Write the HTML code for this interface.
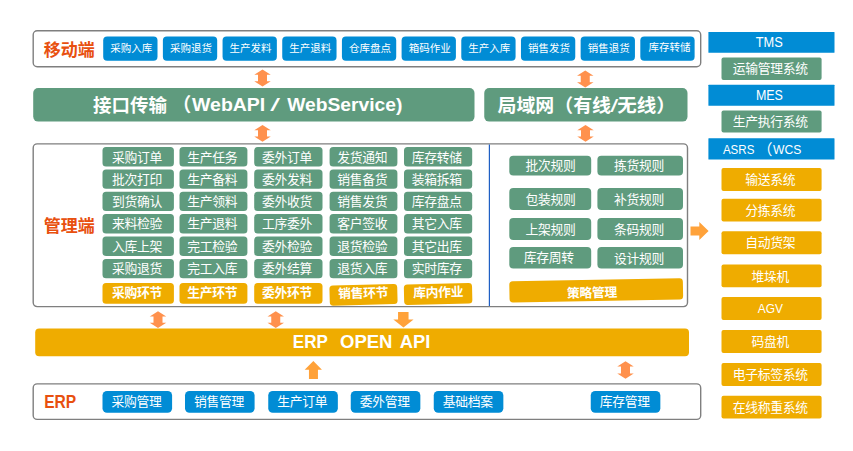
<!DOCTYPE html>
<html lang="zh-CN"><head><meta charset="utf-8"><title>WMS</title>
<style>
html,body{margin:0;padding:0;background:#fff;}
body{width:853px;height:451px;overflow:hidden;}
svg{display:block;font-family:"Liberation Sans","Noto Sans CJK SC",sans-serif;}
</style></head><body>
<svg width="853" height="451" viewBox="0 0 853 451">
<rect x="33.20" y="30.70" width="667.50" height="36.00" rx="4" fill="#fff" stroke="#7f7f7f" stroke-width="1.4"/>
<text x="69.30" y="50.00" font-size="17" fill="#E8500F" font-weight="700" text-anchor="middle" dominant-baseline="central" >移动端</text>
<rect x="103.20" y="36.50" width="54.30" height="24.30" rx="4" fill="#018CD5" />
<text x="131.25" y="48.35" font-size="10.5" fill="#fff" text-anchor="middle" dominant-baseline="central" >采购入库</text>
<rect x="162.88" y="36.50" width="54.30" height="24.30" rx="4" fill="#018CD5" />
<text x="190.93" y="48.35" font-size="10.5" fill="#fff" text-anchor="middle" dominant-baseline="central" >采购退货</text>
<rect x="222.56" y="36.50" width="54.30" height="24.30" rx="4" fill="#018CD5" />
<text x="250.61" y="48.35" font-size="10.5" fill="#fff" text-anchor="middle" dominant-baseline="central" >生产发料</text>
<rect x="282.24" y="36.50" width="54.30" height="24.30" rx="4" fill="#018CD5" />
<text x="310.29" y="48.35" font-size="10.5" fill="#fff" text-anchor="middle" dominant-baseline="central" >生产退料</text>
<rect x="341.92" y="36.50" width="54.30" height="24.30" rx="4" fill="#018CD5" />
<text x="369.97" y="48.35" font-size="10.5" fill="#fff" text-anchor="middle" dominant-baseline="central" >仓库盘点</text>
<rect x="401.60" y="36.50" width="54.30" height="24.30" rx="4" fill="#018CD5" />
<text x="429.65" y="48.35" font-size="10.5" fill="#fff" text-anchor="middle" dominant-baseline="central" >箱码作业</text>
<rect x="461.28" y="36.50" width="54.30" height="24.30" rx="4" fill="#018CD5" />
<text x="489.33" y="48.35" font-size="10.5" fill="#fff" text-anchor="middle" dominant-baseline="central" >生产入库</text>
<rect x="520.96" y="36.50" width="54.30" height="24.30" rx="4" fill="#018CD5" />
<text x="549.01" y="48.35" font-size="10.5" fill="#fff" text-anchor="middle" dominant-baseline="central" >销售发货</text>
<rect x="580.64" y="36.50" width="54.30" height="24.30" rx="4" fill="#018CD5" />
<text x="608.69" y="48.35" font-size="10.5" fill="#fff" text-anchor="middle" dominant-baseline="central" >销售退货</text>
<rect x="640.32" y="36.50" width="54.30" height="24.30" rx="4" fill="#018CD5" />
<text x="669.47" y="47.15" font-size="10.5" fill="#fff" text-anchor="middle" dominant-baseline="central" >库存转储</text>
<rect x="33.20" y="88.00" width="441.30" height="33.60" rx="5" fill="#5F9B7E" />
<rect x="484.25" y="88.00" width="203.25" height="33.60" rx="5" fill="#5F9B7E" />
<text x="93.00" y="105.00" font-size="18.5" fill="#fff" font-weight="700" text-anchor="start" dominant-baseline="central" >接口传输</text>
<text x="172.30" y="105.00" font-size="19" fill="#fff" font-weight="700" text-anchor="start" dominant-baseline="central" >（</text>
<text x="192.00" y="105.00" font-size="18" fill="#fff" font-weight="700" text-anchor="start" dominant-baseline="central"  textLength="73.3" lengthAdjust="spacingAndGlyphs">WebAPI</text>
<text x="270.20" y="105.00" font-size="18" fill="#fff" text-anchor="start" dominant-baseline="central"  textLength="9.8" lengthAdjust="spacingAndGlyphs">/</text>
<text x="287.20" y="105.00" font-size="18" fill="#fff" font-weight="700" text-anchor="start" dominant-baseline="central"  textLength="115.2" lengthAdjust="spacingAndGlyphs">WebService)</text>
<text x="497.50" y="105.00" font-size="18.5" fill="#fff" font-weight="700" text-anchor="start" dominant-baseline="central"  textLength="113.5" lengthAdjust="spacingAndGlyphs">局域网（有线</text>
<text x="610.20" y="105.00" font-size="18.5" fill="#fff" text-anchor="start" dominant-baseline="central"  textLength="8" lengthAdjust="spacingAndGlyphs">/</text>
<text x="617.30" y="105.00" font-size="18.5" fill="#fff" font-weight="700" text-anchor="start" dominant-baseline="central"  textLength="58.5" lengthAdjust="spacingAndGlyphs">无线）</text>
<polygon fill="#FF914D" points="262.50,69.50 270.75,74.80 267.00,74.80 267.00,81.20 270.75,81.20 262.50,86.50 254.25,81.20 258.00,81.20 258.00,74.80 254.25,74.80"/>
<polygon fill="#FF914D" points="585.25,70.50 593.50,75.80 589.75,75.80 589.75,82.20 593.50,82.20 585.25,87.50 577.00,82.20 580.75,82.20 580.75,75.80 577.00,75.80"/>
<polygon fill="#FF914D" points="262.50,125.00 270.75,130.30 267.00,130.30 267.00,136.45 270.75,136.45 262.50,141.75 254.25,136.45 258.00,136.45 258.00,130.30 254.25,130.30"/>
<polygon fill="#FF914D" points="585.50,125.00 593.75,130.30 590.00,130.30 590.00,136.45 593.75,136.45 585.50,141.75 577.25,136.45 581.00,136.45 581.00,130.30 577.25,130.30"/>
<polygon fill="#FF914D" points="158.00,311.25 166.25,316.55 162.50,316.55 162.50,322.70 166.25,322.70 158.00,328.00 149.75,322.70 153.50,322.70 153.50,316.55 149.75,316.55"/>
<polygon fill="#FF914D" points="275.75,311.25 284.00,316.55 280.25,316.55 280.25,322.70 284.00,322.70 275.75,328.00 267.50,322.70 271.25,322.70 271.25,316.55 267.50,316.55"/>
<polygon fill="#FF914D" points="625.50,361.25 633.75,366.55 630.00,366.55 630.00,373.45 633.75,373.45 625.50,378.75 617.25,373.45 621.00,373.45 621.00,366.55 617.25,366.55"/>
<rect x="33.20" y="143.90" width="654.30" height="162.70" rx="4" fill="#fff" stroke="#7f7f7f" stroke-width="1.4"/>
<line x1="489.4" y1="144.5" x2="489.4" y2="306" stroke="#1F5FC4" stroke-width="1.2"/>
<text x="69.30" y="226.50" font-size="17" fill="#E8500F" font-weight="700" text-anchor="middle" dominant-baseline="central" >管理端</text>
<rect x="102.50" y="147.10" width="71.40" height="19.40" rx="3.5" fill="#5F9B7E" />
<text x="136.90" y="157.00" font-size="12.8" fill="#fff" text-anchor="middle" dominant-baseline="central" letter-spacing="-0.3">采购订单</text>
<rect x="102.50" y="169.40" width="71.40" height="19.40" rx="3.5" fill="#5F9B7E" />
<text x="136.90" y="179.30" font-size="12.8" fill="#fff" text-anchor="middle" dominant-baseline="central" letter-spacing="-0.3">批次打印</text>
<rect x="102.50" y="191.70" width="71.40" height="19.40" rx="3.5" fill="#5F9B7E" />
<text x="136.90" y="201.60" font-size="12.8" fill="#fff" text-anchor="middle" dominant-baseline="central" letter-spacing="-0.3">到货确认</text>
<rect x="102.50" y="214.00" width="71.40" height="19.40" rx="3.5" fill="#5F9B7E" />
<text x="136.90" y="223.90" font-size="12.8" fill="#fff" text-anchor="middle" dominant-baseline="central" letter-spacing="-0.3">来料检验</text>
<rect x="102.50" y="236.60" width="71.40" height="19.40" rx="3.5" fill="#5F9B7E" />
<text x="136.90" y="246.50" font-size="12.8" fill="#fff" text-anchor="middle" dominant-baseline="central" letter-spacing="-0.3">入库上架</text>
<rect x="102.50" y="258.90" width="71.40" height="19.40" rx="3.5" fill="#5F9B7E" />
<text x="136.90" y="268.80" font-size="12.8" fill="#fff" text-anchor="middle" dominant-baseline="central" letter-spacing="-0.3">采购退货</text>
<rect x="179.50" y="147.10" width="67.90" height="19.40" rx="3.5" fill="#5F9B7E" />
<text x="212.15" y="157.00" font-size="12.8" fill="#fff" text-anchor="middle" dominant-baseline="central" letter-spacing="-0.3">生产任务</text>
<rect x="179.50" y="169.40" width="67.90" height="19.40" rx="3.5" fill="#5F9B7E" />
<text x="212.15" y="179.30" font-size="12.8" fill="#fff" text-anchor="middle" dominant-baseline="central" letter-spacing="-0.3">生产备料</text>
<rect x="179.50" y="191.70" width="67.90" height="19.40" rx="3.5" fill="#5F9B7E" />
<text x="212.15" y="201.60" font-size="12.8" fill="#fff" text-anchor="middle" dominant-baseline="central" letter-spacing="-0.3">生产领料</text>
<rect x="179.50" y="214.00" width="67.90" height="19.40" rx="3.5" fill="#5F9B7E" />
<text x="212.15" y="223.90" font-size="12.8" fill="#fff" text-anchor="middle" dominant-baseline="central" letter-spacing="-0.3">生产退料</text>
<rect x="179.50" y="236.60" width="67.90" height="19.40" rx="3.5" fill="#5F9B7E" />
<text x="212.15" y="246.50" font-size="12.8" fill="#fff" text-anchor="middle" dominant-baseline="central" letter-spacing="-0.3">完工检验</text>
<rect x="179.50" y="258.90" width="67.90" height="19.40" rx="3.5" fill="#5F9B7E" />
<text x="212.15" y="268.80" font-size="12.8" fill="#fff" text-anchor="middle" dominant-baseline="central" letter-spacing="-0.3">完工入库</text>
<rect x="254.20" y="147.10" width="68.30" height="19.40" rx="3.5" fill="#5F9B7E" />
<text x="287.05" y="157.00" font-size="12.8" fill="#fff" text-anchor="middle" dominant-baseline="central" letter-spacing="-0.3">委外订单</text>
<rect x="254.20" y="169.40" width="68.30" height="19.40" rx="3.5" fill="#5F9B7E" />
<text x="287.05" y="179.30" font-size="12.8" fill="#fff" text-anchor="middle" dominant-baseline="central" letter-spacing="-0.3">委外发料</text>
<rect x="254.20" y="191.70" width="68.30" height="19.40" rx="3.5" fill="#5F9B7E" />
<text x="287.05" y="201.60" font-size="12.8" fill="#fff" text-anchor="middle" dominant-baseline="central" letter-spacing="-0.3">委外收货</text>
<rect x="254.20" y="214.00" width="68.30" height="19.40" rx="3.5" fill="#5F9B7E" />
<text x="287.05" y="223.90" font-size="12.8" fill="#fff" text-anchor="middle" dominant-baseline="central" letter-spacing="-0.3">工序委外</text>
<rect x="254.20" y="236.60" width="68.30" height="19.40" rx="3.5" fill="#5F9B7E" />
<text x="287.05" y="246.50" font-size="12.8" fill="#fff" text-anchor="middle" dominant-baseline="central" letter-spacing="-0.3">委外检验</text>
<rect x="254.20" y="258.90" width="68.30" height="19.40" rx="3.5" fill="#5F9B7E" />
<text x="287.05" y="268.80" font-size="12.8" fill="#fff" text-anchor="middle" dominant-baseline="central" letter-spacing="-0.3">委外结算</text>
<rect x="329.60" y="147.10" width="67.80" height="19.40" rx="3.5" fill="#5F9B7E" />
<text x="362.20" y="157.00" font-size="12.8" fill="#fff" text-anchor="middle" dominant-baseline="central" letter-spacing="-0.3">发货通知</text>
<rect x="329.60" y="169.40" width="67.80" height="19.40" rx="3.5" fill="#5F9B7E" />
<text x="362.20" y="179.30" font-size="12.8" fill="#fff" text-anchor="middle" dominant-baseline="central" letter-spacing="-0.3">销售备货</text>
<rect x="329.60" y="191.70" width="67.80" height="19.40" rx="3.5" fill="#5F9B7E" />
<text x="362.20" y="201.60" font-size="12.8" fill="#fff" text-anchor="middle" dominant-baseline="central" letter-spacing="-0.3">销售发货</text>
<rect x="329.60" y="214.00" width="67.80" height="19.40" rx="3.5" fill="#5F9B7E" />
<text x="362.20" y="223.90" font-size="12.8" fill="#fff" text-anchor="middle" dominant-baseline="central" letter-spacing="-0.3">客户签收</text>
<rect x="329.60" y="236.60" width="67.80" height="19.40" rx="3.5" fill="#5F9B7E" />
<text x="362.20" y="246.50" font-size="12.8" fill="#fff" text-anchor="middle" dominant-baseline="central" letter-spacing="-0.3">退货检验</text>
<rect x="329.60" y="258.90" width="67.80" height="19.40" rx="3.5" fill="#5F9B7E" />
<text x="362.20" y="268.80" font-size="12.8" fill="#fff" text-anchor="middle" dominant-baseline="central" letter-spacing="-0.3">退货入库</text>
<rect x="404.00" y="147.10" width="68.20" height="19.40" rx="3.5" fill="#5F9B7E" />
<text x="436.80" y="157.00" font-size="12.8" fill="#fff" text-anchor="middle" dominant-baseline="central" letter-spacing="-0.3">库存转储</text>
<rect x="404.00" y="169.40" width="68.20" height="19.40" rx="3.5" fill="#5F9B7E" />
<text x="436.80" y="179.30" font-size="12.8" fill="#fff" text-anchor="middle" dominant-baseline="central" letter-spacing="-0.3">装箱拆箱</text>
<rect x="404.00" y="191.70" width="68.20" height="19.40" rx="3.5" fill="#5F9B7E" />
<text x="436.80" y="201.60" font-size="12.8" fill="#fff" text-anchor="middle" dominant-baseline="central" letter-spacing="-0.3">库存盘点</text>
<rect x="404.00" y="214.00" width="68.20" height="19.40" rx="3.5" fill="#5F9B7E" />
<text x="436.80" y="223.90" font-size="12.8" fill="#fff" text-anchor="middle" dominant-baseline="central" letter-spacing="-0.3">其它入库</text>
<rect x="404.00" y="236.60" width="68.20" height="19.40" rx="3.5" fill="#5F9B7E" />
<text x="436.80" y="246.50" font-size="12.8" fill="#fff" text-anchor="middle" dominant-baseline="central" letter-spacing="-0.3">其它出库</text>
<rect x="404.00" y="258.90" width="68.20" height="19.40" rx="3.5" fill="#5F9B7E" />
<text x="436.80" y="268.80" font-size="12.8" fill="#fff" text-anchor="middle" dominant-baseline="central" letter-spacing="-0.3">实时库存</text>
<rect x="102.50" y="283.00" width="71.40" height="20.70" rx="3.5" fill="#EFAC00" />
<text x="136.90" y="292.75" font-size="12.8" fill="#fff" font-weight="700" text-anchor="middle" dominant-baseline="central" letter-spacing="-0.3">采购环节</text>
<rect x="179.50" y="283.00" width="67.90" height="20.70" rx="3.5" fill="#EFAC00" />
<text x="212.15" y="292.75" font-size="12.8" fill="#fff" font-weight="700" text-anchor="middle" dominant-baseline="central" letter-spacing="-0.3">生产环节</text>
<rect x="254.20" y="283.00" width="68.30" height="20.70" rx="3.5" fill="#EFAC00" />
<text x="287.05" y="292.75" font-size="12.8" fill="#fff" font-weight="700" text-anchor="middle" dominant-baseline="central" letter-spacing="-0.3">委外环节</text>
<g transform="rotate(-1.5 363.6 294.8)">
<rect x="329.60" y="284.70" width="67.80" height="20.20" rx="3.5" fill="#EFAC00" />
<text x="363.10" y="293.20" font-size="12.8" fill="#fff" font-weight="700" text-anchor="middle" dominant-baseline="central" letter-spacing="-0.3">销售环节</text>
</g>
<g transform="rotate(-1.3 438.2 294)">
<rect x="404.00" y="283.80" width="68.20" height="20.40" rx="3.5" fill="#EFAC00" />
<text x="438.30" y="292.40" font-size="12.8" fill="#fff" font-weight="700" text-anchor="middle" dominant-baseline="central" letter-spacing="-0.3">库内作业</text>
</g>
<rect x="509.30" y="155.80" width="81.90" height="19.60" rx="4" fill="#5F9B7E" />
<text x="550.45" y="165.80" font-size="12.8" fill="#fff" text-anchor="middle" dominant-baseline="central" letter-spacing="-0.3">批次规则</text>
<rect x="597.40" y="155.80" width="85.60" height="19.60" rx="4" fill="#5F9B7E" />
<text x="638.90" y="165.80" font-size="12.8" fill="#fff" text-anchor="middle" dominant-baseline="central" letter-spacing="-0.3">拣货规则</text>
<rect x="509.30" y="187.90" width="81.90" height="22.00" rx="4" fill="#5F9B7E" />
<text x="550.45" y="199.10" font-size="12.8" fill="#fff" text-anchor="middle" dominant-baseline="central" letter-spacing="-0.3">包装规则</text>
<rect x="597.40" y="187.90" width="85.60" height="22.00" rx="4" fill="#5F9B7E" />
<text x="638.90" y="199.10" font-size="12.8" fill="#fff" text-anchor="middle" dominant-baseline="central" letter-spacing="-0.3">补货规则</text>
<rect x="509.30" y="218.10" width="81.90" height="21.80" rx="4" fill="#5F9B7E" />
<text x="550.45" y="229.20" font-size="12.8" fill="#fff" text-anchor="middle" dominant-baseline="central" letter-spacing="-0.3">上架规则</text>
<rect x="597.40" y="218.10" width="85.60" height="21.80" rx="4" fill="#5F9B7E" />
<text x="638.90" y="229.20" font-size="12.8" fill="#fff" text-anchor="middle" dominant-baseline="central" letter-spacing="-0.3">条码规则</text>
<rect x="509.30" y="247.00" width="81.90" height="21.60" rx="4" fill="#5F9B7E" />
<text x="548.65" y="257.00" font-size="12.8" fill="#fff" text-anchor="middle" dominant-baseline="central" letter-spacing="-0.3">库存周转</text>
<rect x="597.40" y="247.00" width="85.60" height="21.60" rx="4" fill="#5F9B7E" />
<text x="638.90" y="258.40" font-size="12.8" fill="#fff" text-anchor="middle" dominant-baseline="central" letter-spacing="-0.3">设计规则</text>
<g transform="rotate(-1 596 290)">
<rect x="509.40" y="279.70" width="173.60" height="21.30" rx="3.5" fill="#EFAC00" />
<text x="591.90" y="292.75" font-size="12.8" fill="#fff" font-weight="700" text-anchor="middle" dominant-baseline="central" letter-spacing="-0.3">策略管理</text>
</g>
<polygon fill="#FFA23A" points="690.50,226.60 699.30,226.60 699.30,222.10 708.60,231.00 699.30,239.90 699.30,235.40 690.50,235.40"/>
<rect x="35.20" y="328.50" width="653.80" height="27.80" rx="4" fill="#EFAC00" />
<text x="292.80" y="341.20" font-size="18.5" fill="#fff" font-weight="700" text-anchor="start" dominant-baseline="central"  textLength="35" lengthAdjust="spacingAndGlyphs">ERP</text>
<text x="340.00" y="341.20" font-size="18.5" fill="#fff" font-weight="700" text-anchor="start" dominant-baseline="central"  textLength="52.5" lengthAdjust="spacingAndGlyphs">OPEN</text>
<text x="399.80" y="341.20" font-size="18.5" fill="#fff" font-weight="700" text-anchor="start" dominant-baseline="central"  textLength="30.5" lengthAdjust="spacingAndGlyphs">API</text>
<polygon fill="#FFA23A" points="398.05,311.90 408.55,311.90 408.55,319.40 413.55,319.40 403.45,327.60 393.35,319.40 398.05,319.40"/>
<polygon fill="#FFA23A" points="313.35,360.90 321.95,369.80 317.95,369.80 317.95,378.90 308.95,378.90 308.95,369.80 304.65,369.80"/>
<rect x="33.20" y="383.90" width="667.50" height="35.50" rx="4" fill="#fff" stroke="#7f7f7f" stroke-width="1.4"/>
<text x="44.20" y="402.30" font-size="18" fill="#E8500F" font-weight="700" text-anchor="start" dominant-baseline="central"  textLength="32" lengthAdjust="spacingAndGlyphs">ERP</text>
<rect x="102.50" y="390.90" width="69.60" height="21.90" rx="4.5" fill="#018CD5" />
<text x="136.40" y="401.55" font-size="12.8" fill="#fff" text-anchor="middle" dominant-baseline="central" letter-spacing="-0.3">采购管理</text>
<rect x="185.00" y="390.90" width="69.60" height="21.90" rx="4.5" fill="#018CD5" />
<text x="218.90" y="401.55" font-size="12.8" fill="#fff" text-anchor="middle" dominant-baseline="central" letter-spacing="-0.3">销售管理</text>
<rect x="268.25" y="390.90" width="69.60" height="21.90" rx="4.5" fill="#018CD5" />
<text x="302.15" y="401.55" font-size="12.8" fill="#fff" text-anchor="middle" dominant-baseline="central" letter-spacing="-0.3">生产订单</text>
<rect x="350.75" y="390.90" width="69.60" height="21.90" rx="4.5" fill="#018CD5" />
<text x="384.65" y="401.55" font-size="12.8" fill="#fff" text-anchor="middle" dominant-baseline="central" letter-spacing="-0.3">委外管理</text>
<rect x="433.75" y="390.90" width="69.60" height="21.90" rx="4.5" fill="#018CD5" />
<text x="467.65" y="401.55" font-size="12.8" fill="#fff" text-anchor="middle" dominant-baseline="central" letter-spacing="-0.3">基础档案</text>
<rect x="590.75" y="390.90" width="69.60" height="21.90" rx="4.5" fill="#018CD5" />
<text x="624.65" y="401.55" font-size="12.8" fill="#fff" text-anchor="middle" dominant-baseline="central" letter-spacing="-0.3">库存管理</text>
<rect x="708.40" y="31.90" width="126.10" height="20.90" rx="0.5" fill="#018CD5" />
<text x="755.70" y="42.30" font-size="14" fill="#fff" text-anchor="start" dominant-baseline="central"  textLength="27" lengthAdjust="spacingAndGlyphs">TMS</text>
<rect x="721.50" y="57.50" width="100.10" height="22.50" rx="2" fill="#5F9B7E" />
<text x="770.25" y="68.95" font-size="12.8" fill="#fff" text-anchor="middle" dominant-baseline="central" letter-spacing="-0.3">运输管理系统</text>
<rect x="708.40" y="84.80" width="126.10" height="20.90" rx="0.5" fill="#018CD5" />
<text x="755.90" y="95.20" font-size="14" fill="#fff" text-anchor="start" dominant-baseline="central"  textLength="27" lengthAdjust="spacingAndGlyphs">MES</text>
<rect x="721.50" y="110.50" width="100.10" height="22.00" rx="2" fill="#5F9B7E" />
<text x="770.25" y="121.70" font-size="12.8" fill="#fff" text-anchor="middle" dominant-baseline="central" letter-spacing="-0.3">生产执行系统</text>
<rect x="708.40" y="138.25" width="126.10" height="21.25" rx="0.5" fill="#018CD5" />
<text x="722.90" y="149.10" font-size="13" fill="#fff" text-anchor="start" dominant-baseline="central"  textLength="31.5" lengthAdjust="spacingAndGlyphs">ASRS</text>
<text x="757.50" y="149.10" font-size="15" fill="#fff" text-anchor="start" dominant-baseline="central" >（</text>
<text x="773.00" y="149.10" font-size="13" fill="#fff" text-anchor="start" dominant-baseline="central"  textLength="28.3" lengthAdjust="spacingAndGlyphs">WCS</text>
<rect x="721.50" y="168.00" width="100.10" height="23.00" rx="2" fill="#EFAC00" />
<text x="770.25" y="179.70" font-size="12.8" fill="#fff" text-anchor="middle" dominant-baseline="central" letter-spacing="-0.3">输送系统</text>
<rect x="721.50" y="198.75" width="100.10" height="22.65" rx="2" fill="#EFAC00" />
<text x="770.25" y="210.27" font-size="12.8" fill="#fff" text-anchor="middle" dominant-baseline="central" letter-spacing="-0.3">分拣系统</text>
<rect x="721.50" y="231.25" width="100.10" height="23.05" rx="2" fill="#EFAC00" />
<text x="770.25" y="242.97" font-size="12.8" fill="#fff" text-anchor="middle" dominant-baseline="central" letter-spacing="-0.3">自动货架</text>
<rect x="721.50" y="264.50" width="100.10" height="22.70" rx="2" fill="#EFAC00" />
<text x="770.25" y="276.05" font-size="12.8" fill="#fff" text-anchor="middle" dominant-baseline="central" letter-spacing="-0.3">堆垛机</text>
<rect x="721.50" y="297.00" width="100.10" height="22.90" rx="2" fill="#EFAC00" />
<text x="757.80" y="308.25" font-size="13" fill="#fff" text-anchor="start" dominant-baseline="central"  textLength="25.2" lengthAdjust="spacingAndGlyphs">AGV</text>
<rect x="721.50" y="330.00" width="100.10" height="22.90" rx="2" fill="#EFAC00" />
<text x="770.25" y="341.65" font-size="12.8" fill="#fff" text-anchor="middle" dominant-baseline="central" letter-spacing="-0.3">码盘机</text>
<rect x="721.50" y="363.00" width="100.10" height="22.90" rx="2" fill="#EFAC00" />
<text x="770.25" y="374.65" font-size="12.8" fill="#fff" text-anchor="middle" dominant-baseline="central" letter-spacing="-0.3">电子标签系统</text>
<rect x="721.50" y="395.75" width="100.10" height="22.85" rx="2" fill="#EFAC00" />
<text x="770.25" y="407.38" font-size="12.8" fill="#fff" text-anchor="middle" dominant-baseline="central" letter-spacing="-0.3">在线称重系统</text>
</svg>
</body></html>
